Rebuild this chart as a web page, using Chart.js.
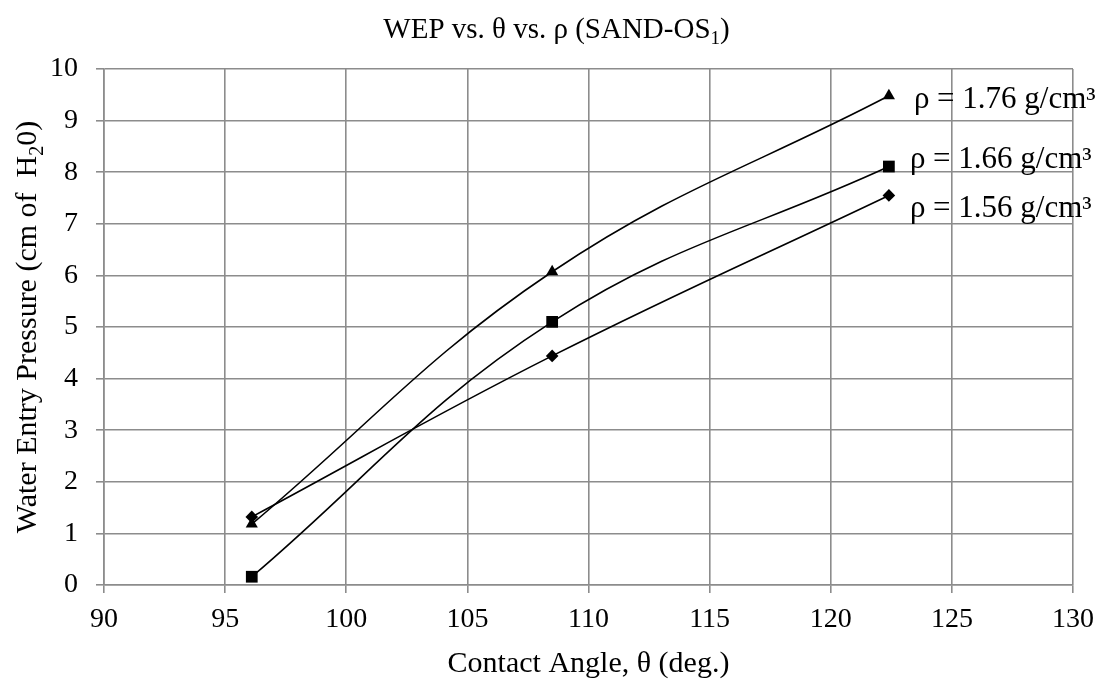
<!DOCTYPE html>
<html>
<head>
<meta charset="utf-8">
<script src="https://cdn.jsdelivr.net/npm/chart.js@4"></script>
<style>
  html, body { margin: 0; padding: 0; background: #fff; }
  #wrap { width: 1113px; height: 685px; }
</style>
</head>
<body>
<div id="wrap"><canvas id="wepchart"></canvas></div>
<script>
const angles = [96.1, 108.5, 122.4];
const wep176 = [1.18, 6.07, 9.48];
const wep166 = [0.16, 5.10, 8.11];
const wep156 = [1.32, 4.44, 7.55];
const densityLabels = ["ρ = 1.76 g/cm³", "ρ = 1.66 g/cm³", "ρ = 1.56 g/cm³"];

const SERIF = "'Liberation Serif', 'Times New Roman', serif";
const GRID = "#8c8c8c";

const toPoints = (ys) => ys.map((y, i) => ({ x: angles[i], y: y }));

// draws a string made of pieces, some of them as subscripts, centred on x
function drawRich(ctx, parts, x, y, size) {
    const subSize = Math.round(size * 0.65);
    let total = 0;
    parts.forEach((p) => {
        ctx.font = `${p.sub ? subSize : size}px ${SERIF}`;
        p.w = ctx.measureText(p.text).width;
        total += p.w;
    });
    let cx = x - total / 2;
    ctx.textAlign = "left";
    ctx.textBaseline = "alphabetic";
    parts.forEach((p) => {
        ctx.font = `${p.sub ? subSize : size}px ${SERIF}`;
        ctx.fillText(p.text, cx, p.sub ? y + size * 0.22 : y);
        cx += p.w;
    });
}

const textPlugin = {
    id: "textPlugin",
    afterDraw(chart) {
        const ctx = chart.ctx;
        const area = chart.chartArea;
        ctx.save();
        ctx.fillStyle = "#000";

        // chart title
        drawRich(ctx, [
            { text: "WEP vs. θ vs. ρ (SAND-OS" },
            { text: "1", sub: true },
            { text: ")" },
        ], chart.width / 2, 38, 29);

        // x axis title
        drawRich(ctx, [{ text: "Contact Angle, θ (deg.)" }],
            (area.left + area.right) / 2, 672, 30);

        // y axis title, rotated
        ctx.save();
        ctx.translate(36, (area.top + area.bottom) / 2);
        ctx.rotate(-Math.PI / 2);
        drawRich(ctx, [
            { text: "Water Entry Pressure (cm of  H" },
            { text: "2", sub: true },
            { text: "0)" },
        ], 0, 0, 30);
        ctx.restore();

        // density labels beside the last point of each curve
        ctx.font = `31px ${SERIF}`;
        ctx.textAlign = "left";
        ctx.textBaseline = "alphabetic";
        chart.data.datasets.forEach((ds, i) => {
            const meta = chart.getDatasetMeta(i);
            const last = meta.data[meta.data.length - 1];
            ctx.fillText(ds.label, last.x + ds.labelDx, last.y + ds.labelDy);
        });
        ctx.restore();
    },
};

const lineStyle = {
    showLine: true,
    borderColor: "#000",
    backgroundColor: "#000",
    borderWidth: 1.6,
    tension: 0.4,
    pointBorderWidth: 0,
};

new Chart(document.getElementById("wepchart"), {
    type: "scatter",
    data: {
        datasets: [
            { ...lineStyle, label: densityLabels[0], data: toPoints(wep176),
              pointStyle: "triangle", pointRadius: 7, labelDx: 25, labelDy: 12 },
            { ...lineStyle, label: densityLabels[1], data: toPoints(wep166),
              pointStyle: "rect", pointRadius: 8.3, labelDx: 21, labelDy: 1 },
            { ...lineStyle, label: densityLabels[2], data: toPoints(wep156),
              pointStyle: "rectRot", pointRadius: 6.3, labelDx: 21, labelDy: 22 },
        ],
    },
    options: {
        responsive: true,
        maintainAspectRatio: false,
        animation: false,
        layout: { padding: { top: 69, right: 40, left: 0, bottom: 0 } },
        plugins: {
            legend: { display: false },
            title: { display: false },
            tooltip: { enabled: false },
        },
        scales: {
            x: {
                type: "linear",
                min: 90,
                max: 130,
                afterFit: (scale) => { scale.height = 100; },
                ticks: {
                    stepSize: 5,
                    padding: 10,
                    color: "#000",
                    font: { family: SERIF, size: 28 },
                },
                grid: { color: GRID, lineWidth: 1.6, tickLength: 8 },
                border: { color: GRID, width: 1.6 },
            },
            y: {
                min: 0,
                max: 10,
                afterFit: (scale) => { scale.width = 104; },
                ticks: {
                    stepSize: 1,
                    padding: 18,
                    color: "#000",
                    font: { family: SERIF, size: 28 },
                },
                grid: { color: GRID, lineWidth: 1.6, tickLength: 8 },
                border: { color: GRID, width: 1.6 },
            },
        },
    },
    plugins: [textPlugin],
});
</script>
</body>
</html>
